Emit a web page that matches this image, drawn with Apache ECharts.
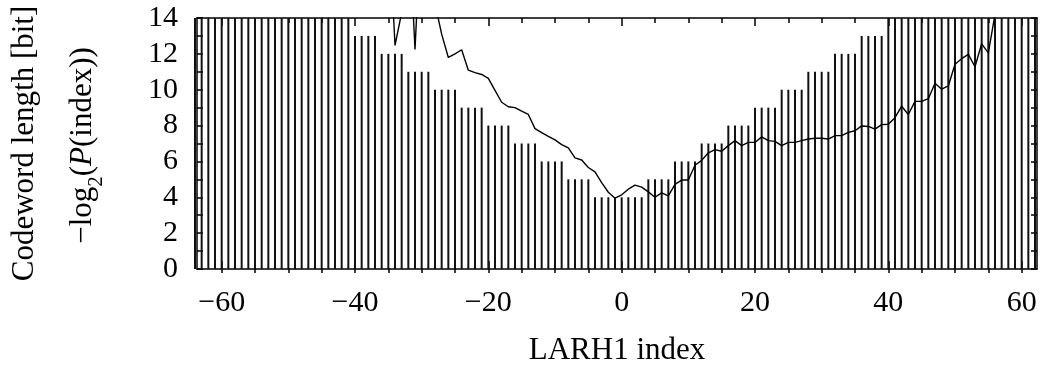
<!DOCTYPE html>
<html>
<head>
<meta charset="utf-8">
<script src="https://cdn.jsdelivr.net/npm/echarts@6/dist/echarts.min.js"></script>
<style>
html,body{margin:0;padding:0;background:#fff;}
#c{width:1043px;height:371px;}
</style>
</head>
<body>
<div id="c"></div>
<script>
// ---- data ----
// codeword length [bit] for LARH1 index -64 .. 62
const codeFirstIndex = -64;
const codeLength = [
  19,19,19,19, 18,18,18,18, 17,17,17,17, 16,16,16,16, 15,15,15,15,
  14,14,14,14, 13,13,13,13, 12,12,12,12, 11,11,11,11, 10,10,10,10,
  9,9,9,9, 8,8,8,8, 7,7,7,7, 6,6,6,6, 5,5,5,5,
  4,4,4,4,4,4,4,4,
  5,5,5,5, 6,6,6,6, 7,7,7,7, 8,8,8,8, 9,9,9,9, 10,10,10,10,
  11,11,11,11, 12,12,12,12, 13,13,13,13, 14,14,14,14, 15,15,15,15,
  16,16,16,16, 17,17,17,17, 18,18,18,18, 19,19,19
];
// -log2(P(index)) for index -35 .. 57
const infoFirstIndex = -35;
const infoBits = [
  20, 12.47, 14.3, 20, 12.24, 20, 17, 14.8, 13.1, 11.8,
  12.0, 12.23, 11.09, 10.95, 10.85, 10.63, 9.96, 9.3, 9.05, 9.0,
  8.8, 8.62, 7.83, 7.61, 7.4, 7.2, 6.94, 6.75, 6.2, 6.08,
  5.66, 5.42, 4.82, 4.28, 3.95, 4.14, 4.45, 4.68, 4.57, 4.3,
  4.0, 4.25, 4.08, 4.72, 4.96, 4.96, 5.79, 6.06, 6.48, 6.66,
  6.57, 6.88, 7.16, 6.88, 7.06, 7.06, 7.37, 7.16, 7.12, 6.88,
  7.06, 7.06, 7.16, 7.25, 7.29, 7.29, 7.25, 7.44, 7.44, 7.62,
  7.71, 7.98, 7.95, 7.8, 8.05, 8.07, 8.44, 9.08, 8.62, 9.35,
  9.35, 9.5, 10.36, 10.03, 10.21, 11.42, 11.73, 11.97, 11.28, 12.56,
  12.05, 14.2, 16
];
const xMajorTicks = [-60, -40, -20, 0, 20, 40, 60];
const xMinorTicks = [-60,-55,-50,-45,-40,-35,-30,-25,-20,-15,-10,-5,0,5,10,15,20,25,30,35,40,45,50,55,60];

// ---- chart ----
const FONT = '"Liberation Serif", "Times New Roman", serif';
const XMIN = -63.7, XMAX = 62.3;
const barData = codeLength.map((v, k) => [codeFirstIndex + k, v]);
const lineData = infoBits.map((v, k) => [infoFirstIndex + k, v]);
const black = {color: '#000', width: 1.5};
const fmt = v => (v < 0 ? '\u2212' + (-v) : String(v));
const gridRect = {left: 197, top: 18, width: 840, height: 255};

const chart = echarts.init(document.getElementById('c'), null, {renderer: 'canvas'});
chart.setOption({
  animation: false,
  backgroundColor: '#fff',
  grid: [Object.assign({}, gridRect), Object.assign({}, gridRect)],
  xAxis: [
    {
      gridIndex: 0, type: 'value', position: 'bottom', min: XMIN, max: XMAX,
      axisLine: {onZero: false, lineStyle: black},
      axisTick: {inside: true, length: 8, customValues: xMajorTicks, lineStyle: black},
      axisLabel: {customValues: xMajorTicks, formatter: fmt, fontFamily: FONT, fontSize: 30, color: '#000', margin: 19},
      splitLine: {show: false},
      name: 'LARH1 index', nameLocation: 'middle', nameGap: 66,
      nameTextStyle: {fontFamily: FONT, fontSize: 31, color: '#000'}
    },
    {
      gridIndex: 0, type: 'value', position: 'top', min: XMIN, max: XMAX,
      axisLine: {onZero: false, lineStyle: black},
      axisTick: {inside: true, length: 8, customValues: xMajorTicks, lineStyle: black},
      axisLabel: {show: false},
      splitLine: {show: false}
    },
    {
      gridIndex: 1, type: 'value', position: 'bottom', min: XMIN, max: XMAX,
      axisLine: {show: false, onZero: false},
      axisTick: {inside: true, length: 5, customValues: xMinorTicks, lineStyle: black},
      axisLabel: {show: false},
      splitLine: {show: false}
    },
    {
      gridIndex: 1, type: 'value', position: 'top', min: XMIN, max: XMAX,
      axisLine: {show: false, onZero: false},
      axisTick: {inside: true, length: 5, customValues: xMinorTicks, lineStyle: black},
      axisLabel: {show: false},
      splitLine: {show: false}
    }
  ],
  yAxis: [
    {
      gridIndex: 0, type: 'value', position: 'left', min: 0, max: 14, interval: 2,
      axisLine: {show: true, onZero: false, lineStyle: black},
      axisTick: {inside: true, length: 6, lineStyle: black},
      minorTick: {show: true, splitNumber: 2, length: 6, lineStyle: black},
      axisLabel: {fontFamily: FONT, fontSize: 30, color: '#000', margin: 19},
      splitLine: {show: false},
      name: 'Codeword length [bit]', nameLocation: 'middle', nameRotate: 90, nameGap: 157,
      nameTextStyle: {fontFamily: FONT, fontSize: 31, color: '#000'}
    },
    {
      gridIndex: 0, type: 'value', position: 'right', min: 0, max: 14, interval: 2,
      axisLine: {show: true, onZero: false, lineStyle: black},
      axisTick: {inside: true, length: 6, lineStyle: black},
      minorTick: {show: true, splitNumber: 2, length: 6, lineStyle: black},
      axisLabel: {show: false},
      splitLine: {show: false}
    },
    {
      gridIndex: 1, type: 'value', position: 'left', min: 0, max: 14,
      axisLine: {show: false}, axisTick: {show: false}, axisLabel: {show: false},
      splitLine: {show: false},
      name: '{a|\u2212log}{s|2}{a|(}{i|P}{a|(index))}',
      nameLocation: 'middle', nameRotate: 90, nameGap: 90,
      nameTextStyle: {
        fontFamily: FONT, fontSize: 31, color: '#000',
        rich: {
          a: {fontFamily: FONT, fontSize: 31, color: '#000', lineHeight: 40, verticalAlign: 'top'},
          i: {fontFamily: FONT, fontSize: 31, color: '#000', fontStyle: 'italic', lineHeight: 40, verticalAlign: 'top'},
          s: {fontFamily: FONT, fontSize: 21, color: '#000', lineHeight: 21, verticalAlign: 'bottom'}
        }
      }
    }
  ],
  series: [
    {
      type: 'bar', xAxisIndex: 0, yAxisIndex: 0, data: barData,
      barWidth: 2, clip: true, silent: true,
      itemStyle: {color: '#111'}
    },
    {
      type: 'line', xAxisIndex: 0, yAxisIndex: 0, data: lineData,
      symbol: 'none', clip: true, silent: true,
      lineStyle: {color: '#000', width: 1.4}
    }
  ]
});
</script>
</body>
</html>
